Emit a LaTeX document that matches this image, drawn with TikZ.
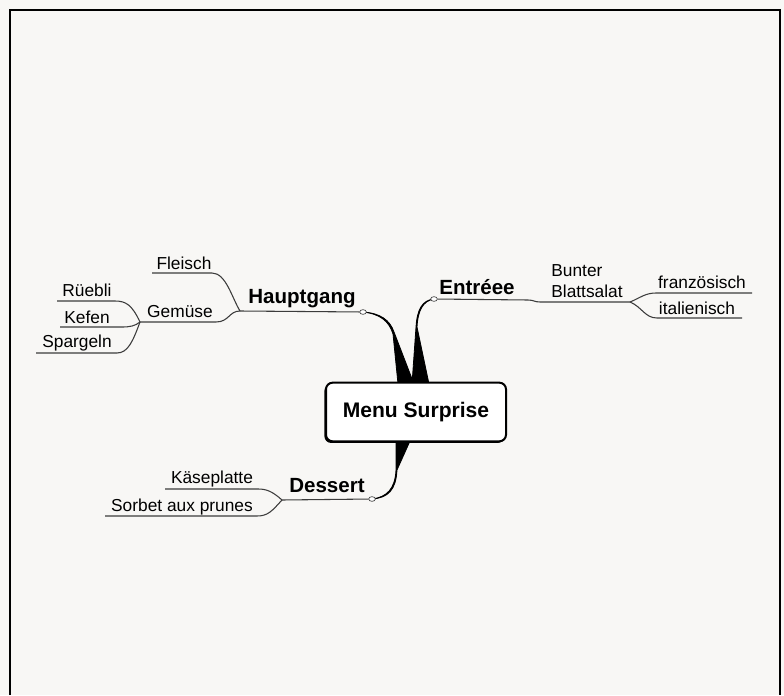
\documentclass[tikz,border=0pt]{standalone}
\usepackage{fontspec}
\setmainfont{Liberation Sans}
\usetikzlibrary{positioning}
\usetikzlibrary{shapes.geometric}
\usetikzlibrary{shadows}
\definecolor{paper}{RGB}{248,247,245}
\definecolor{ink}{RGB}{60,60,60}

\begin{document}
\begin{tikzpicture}[x=0.75pt, y=-0.75pt,
    every node/.style={font=\fontsize{13}{15.75}\selectfont, inner sep=0pt},
    topic/.style={font=\fontsize{15.4}{18}\selectfont\bfseries},
    rootbox/.style={draw=black, line width=1.5pt, fill=white, rounded corners=5pt,
        minimum width=135pt, minimum height=44pt, font=\fontsize{15.8}{18}\selectfont\bfseries,
        drop shadow={shadow xshift=-1.2pt, shadow yshift=-1.2pt, fill=black, opacity=1}},
    knob/.style={ellipse, draw=ink, fill=white, line width=0.5pt, minimum width=5pt, minimum height=3.5pt},
    twig/.style={draw=ink, line width=0.8pt},
    wedge/.style={fill=black, draw=black, line width=0.6pt, line join=round}]

    % paper and frame
    \fill[paper] (0,0) rectangle (784,695);
    \useasboundingbox (0,0) rectangle (784,695);
    \draw[black, line width=1.6pt] (10,695) -- (10,10) -- (780,10) -- (780,695);

    % branches from the centre
    \path[wedge] (363,312) .. controls (380,313) and (390,320) .. (394,332)
        -- (414,384) -- (398,384) -- (393,334)
        .. controls (389,321) and (380,314) .. (363,312);
    \path[wedge] (434,299) .. controls (422,300) and (417,310) .. (416,327)
        -- (412,384) -- (429,384) -- (417,327)
        .. controls (418,310) and (423,301) .. (434,299);
    \path[wedge] (396,441) -- (410,441) -- (397,470)
        .. controls (396,490) and (388,498) .. (372,499)
        .. controls (387,497) and (395,489) .. (396,470) -- cycle;

    \node[rootbox] (root) at (416,412) {Menu Surprise};

    % Hauptgang
    \node[knob] (hgk) at (363,312) {};
    \coordinate (hgj) at (240,311);
    \coordinate (fl) at (152,273);
    \coordinate (gmj) at (140,322);
    \coordinate (rb) at (57,301);
    \coordinate (kf) at (60,327);
    \coordinate (sp) at (36,353);
    \node[topic] (hg) at (302,299) {Hauptgang};
    \node (fleisch) at (184,263) {Fleisch};
    \node (gemuese) at (180,312) {Gemüse};
    \node (rueebli) at (87,290) {Rüebli};
    \node (kefen) at (87,317) {Kefen};
    \node (spargeln) at (77,343) {Spargeln};
    \draw[twig] (hgk) -- (hgj);
    \draw[twig] (hgj) .. controls (232,298) and (226,273) .. (212,273) -- (fl);
    \draw[twig] (hgj) .. controls (229,311) and (229,322) .. (216,322) -- (gmj);
    \draw[twig] (gmj) .. controls (132,305) and (126,301) .. (115,301) -- (rb);
    \draw[twig] (gmj) .. controls (135,326) and (130,327) .. (122,327) -- (kf);
    \draw[twig] (gmj) .. controls (133,341) and (128,353) .. (117,353) -- (sp);

    % Entree
    \node[knob] (enk) at (434,299) {};
    \coordinate (enj) at (630,302);
    \coordinate (fr) at (752,293);
    \coordinate (it) at (742,318);
    \node[topic] (en) at (477,287) {Entréee};
    \node[align=left] (salat) at (587,281) {Bunter\\Blattsalat};
    \node (franz) at (702,282) {französisch};
    \node (ital) at (697,308) {italienisch};
    \draw[twig] (enk) -- (528,300) .. controls (534,300) and (534,302) .. (540,302) -- (enj);
    \draw[twig] (enj) .. controls (640,298) and (645,293) .. (656,293) -- (fr);
    \draw[twig] (enj) .. controls (642,307) and (645,318) .. (657,318) -- (it);

    % Dessert
    \node[knob] (dsk) at (372,499) {};
    \coordinate (dsj) at (282,500);
    \coordinate (ks) at (165,489);
    \coordinate (sb) at (105,516);
    \node[topic] (ds) at (327,486) {Dessert};
    \node (kaese) at (212,479) {Käseplatte};
    \node (sorbet) at (182,507) {Sorbet aux prunes};
    \draw[twig] (dsk) -- (dsj);
    \draw[twig] (dsj) .. controls (272,491) and (266,489) .. (258,489) -- (ks);
    \draw[twig] (dsj) .. controls (272,511) and (268,516) .. (257,516) -- (sb);
\end{tikzpicture}
\end{document}
